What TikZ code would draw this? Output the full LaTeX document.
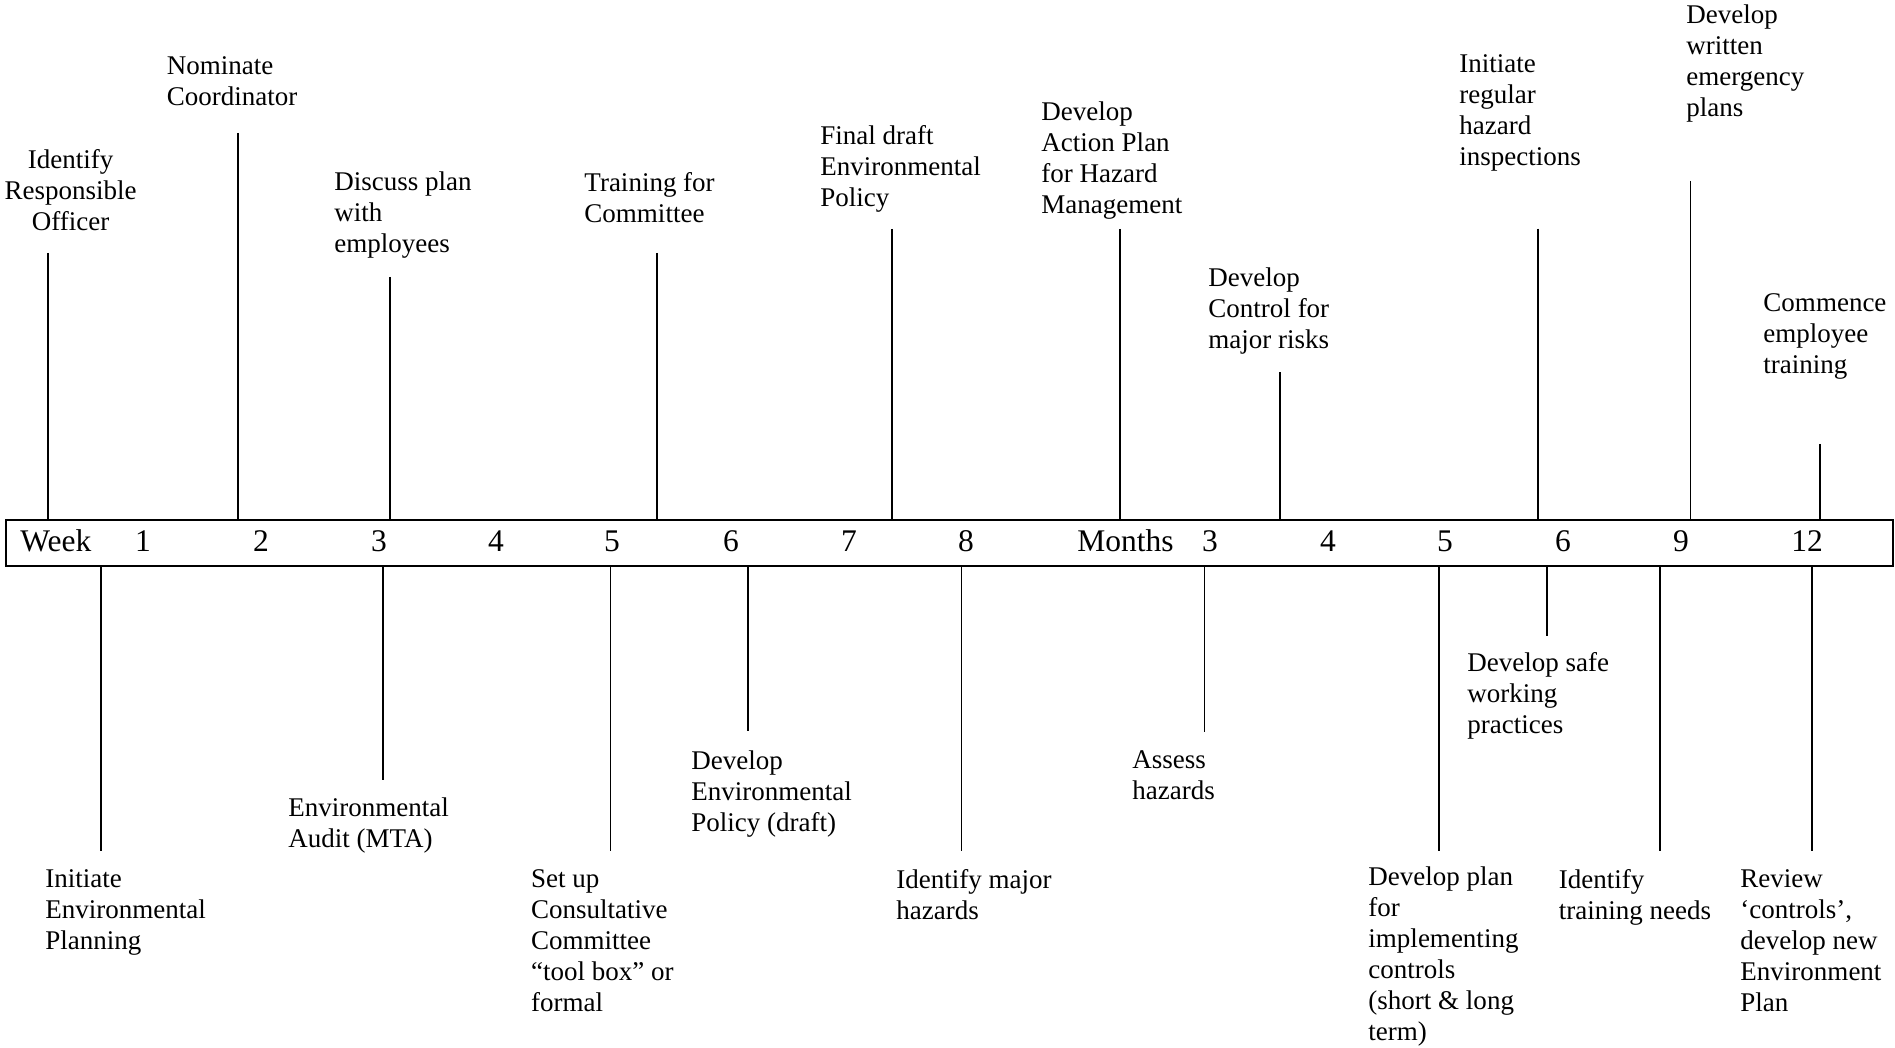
\documentclass[tikz,border=0pt]{standalone}
\usepackage{fontspec}
\setmainfont{Liberation Serif}
\begin{document}
\begin{tikzpicture}[x=0.44433pt,y=-0.44433pt,
  lbl/.style={font=\fontsize{12}{13.8}\selectfont,inner sep=0pt,align=left,anchor=base west,yshift=-1.3pt},
  lblc/.style={font=\fontsize{12}{13.8}\selectfont,inner sep=0pt,align=center,anchor=base,yshift=-1.3pt},
  boxlbl/.style={font=\fontsize{14}{16}\selectfont,inner sep=0pt,anchor=base,yshift=-0.5pt},
  tick/.style={line width=0.75pt},
  bar/.style={draw,line width=0.75pt,minimum width=1887*0.44433pt,minimum height=46*0.44433pt,inner sep=0pt}]
\useasboundingbox (0,0) rectangle (1895,1048);
% timeline box
\node[bar] (box) at (949.5,543) {};
% box labels
\node[boxlbl,anchor=base west] (week) at (20,550.7) {Week};
\node[boxlbl] (w1) at (143,550.7) {1};
\node[boxlbl] (w2) at (261,550.7) {2};
\node[boxlbl] (w3) at (379,550.7) {3};
\node[boxlbl] (w4) at (496,550.7) {4};
\node[boxlbl] (w5) at (612,550.7) {5};
\node[boxlbl] (w6) at (731,550.7) {6};
\node[boxlbl] (w7) at (849,550.7) {7};
\node[boxlbl] (w8) at (966,550.7) {8};
\node[boxlbl,anchor=base west] (months) at (1077,550.7) {Months};
\node[boxlbl] (m3) at (1210,550.7) {3};
\node[boxlbl] (m4) at (1328,550.7) {4};
\node[boxlbl] (m5) at (1445,550.7) {5};
\node[boxlbl] (m6) at (1563,550.7) {6};
\node[boxlbl] (m9) at (1681,550.7) {9};
\node[boxlbl] (m12) at (1807,550.7) {12};
% labels above (anchor = baseline of last line)
\node[lblc] (t1) at (70.6,228) {Identify\\Responsible\\Officer};
\node[lbl] (t2) at (166.5,102.5) {Nominate\\Coordinator};
\node[lbl] (t3) at (334,250) {Discuss plan\\with\\employees};
\node[lbl] (t4) at (584,220) {Training for\\Committee};
\node[lbl] (t5) at (820,204) {Final draft\\Environmental\\Policy};
\node[lbl] (t6) at (1041,210.7) {Develop\\Action Plan\\for Hazard\\Management};
\node[lbl] (t7) at (1208,346) {Develop\\Control for\\major risks};
\node[lbl] (t8) at (1459,162.5) {Initiate\\regular\\hazard\\inspections};
\node[lbl] (t9) at (1686,114) {Develop\\written\\emergency\\plans};
\node[lbl] (t10) at (1763,371) {Commence\\employee\\training};
% labels below
\node[lbl] (b1) at (45,947) {Initiate\\Environmental\\Planning};
\node[lbl] (b2) at (288,845) {Environmental\\Audit (MTA)};
\node[lbl] (b3) at (530.6,1008.6) {Set up\\Consultative\\Committee\\“tool box” or\\formal};
\node[lbl] (b4) at (691,828.5) {Develop\\Environmental\\Policy (draft)};
\node[lbl] (b5) at (896,917) {Identify major\\hazards};
\node[lbl] (b6) at (1132,797) {Assess\\hazards};
\node[lbl] (b7) at (1368,1038) {Develop plan\\for\\implementing\\controls\\(short \& long\\term)};
\node[lbl] (b8) at (1467,730.7) {Develop safe\\working\\practices};
\node[lbl] (b9) at (1558.5,917) {Identify\\training needs};
\node[lbl] (b10) at (1740,1008.6) {Review\\‘controls’,\\develop new\\Environment\\Plan};
% line ends above
\coordinate (ct1) at (48,253);
\coordinate (ct2) at (238,133);
\coordinate (ct3) at (390,277);
\coordinate (ct4) at (657,253);
\coordinate (ct5) at (892,229);
\coordinate (ct6) at (1120,229);
\coordinate (ct7) at (1280,372.5);
\coordinate (ct8) at (1538,228.6);
\coordinate (ct9) at (1690.6,181);
\coordinate (ct10) at (1820,444);
% line ends below
\coordinate (cb1) at (101,851);
\coordinate (cb2) at (383,780);
\coordinate (cb3) at (610.6,851);
\coordinate (cb4) at (748,731);
\coordinate (cb5) at (961.6,851);
\coordinate (cb6) at (1204.5,732);
\coordinate (cb7) at (1439,851);
\coordinate (cb8) at (1547,636);
\coordinate (cb9) at (1660,851);
\coordinate (cb10) at (1812,851);
\foreach \i in {1,...,10}{
  \draw[tick] (ct\i) -- (ct\i |- box.north);
  \draw[tick] (cb\i |- box.south) -- (cb\i);
}
\end{tikzpicture}
\end{document}
